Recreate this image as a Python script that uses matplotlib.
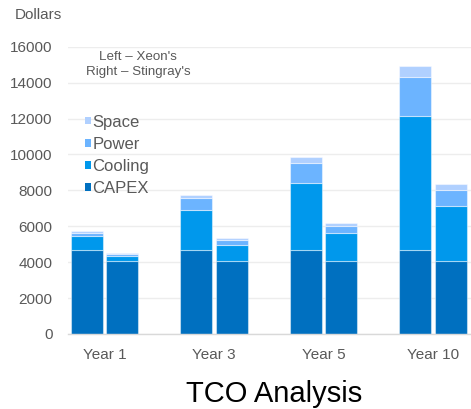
import matplotlib
matplotlib.use("Agg")
import matplotlib.pyplot as plt
from matplotlib.patches import Patch
import numpy as np

plt.rcParams['font.family'] = ['Liberation Sans', 'DejaVu Sans']

years = ["Year 1", "Year 3", "Year 5", "Year 10"]
components = ["CAPEX", "Cooling", "Power", "Space"]

# Cost components per year (dollars)
xeon_capex = [4700, 4700, 4700, 4700]
xeon_cooling = [750, 2200, 3720, 7430]
xeon_power = [190, 650, 1080, 2170]
xeon_space = [95, 185, 335, 630]

stingray_capex = [4080, 4080, 4080, 4080]
stingray_cooling = [260, 890, 1520, 3060]
stingray_power = [110, 260, 410, 890]
stingray_space = [55, 110, 185, 315]

colors = {"CAPEX": "#0070C0", "Cooling": "#0098EC",
          "Power": "#6CB4FF", "Space": "#B0D0FF"}

fig = plt.figure(figsize=(4.71, 4.09), dpi=100)
ax = fig.add_axes([0.1444, 0.1834, 0.8556, 0.7024])

x = np.arange(len(years))
width = 0.292
offset = 0.164

def stack(xpos, parts):
    bottom = np.zeros(len(years))
    for name, vals in zip(components, parts):
        vals = np.asarray(vals, dtype=float)
        ax.bar(xpos, vals, width, bottom=bottom, color=colors[name],
               edgecolor=(1, 1, 1, 0.45), linewidth=0.8, zorder=3)
        bottom += vals

stack(x - offset, [xeon_capex, xeon_cooling, xeon_power, xeon_space])
stack(x + offset, [stingray_capex, stingray_cooling, stingray_power, stingray_space])

ax.set_xlim(-0.333, 3.347)
ax.set_ylim(0, 16000)
ax.set_yticks(np.arange(0, 16001, 2000))
ax.set_xticks(x)
ax.set_xticklabels(years)
ax.tick_params(axis='both', length=0, labelsize=11, labelcolor="#595959")
ax.tick_params(axis='x', pad=10)
ax.tick_params(axis='y', pad=11)
ax.grid(axis='y', color="#EDEDED", linewidth=1.0, zorder=0)
ax.set_axisbelow(True)
for side in ["top", "right", "left"]:
    ax.spines[side].set_visible(False)
ax.spines["bottom"].set_color("#D9D9D9")
ax.spines["bottom"].set_linewidth(1.0)
ax.spines["bottom"].set_zorder(4)

fig.text(15 / 471, 1 - 15 / 409, "Dollars", fontsize=11, color="#595959",
         ha="left", va="center")

fig.text(138 / 471, 1 - 56.5 / 409, "Left – Xeon's", fontsize=9.6,
         color="#595959", ha="center", va="center")
fig.text(138 / 471, 1 - 72.5 / 409, "Right – Stingray's", fontsize=9.6,
         color="#595959", ha="center", va="center")

handles = [Patch(facecolor=colors[n], edgecolor="none") for n in reversed(components)]
leg = fig.legend(handles, list(reversed(components)), loc="upper left",
                 bbox_to_anchor=(85 / 471, 1 - 114.5 / 409), frameon=False,
                 fontsize=12, handlelength=0.33, handleheight=0.33,
                 handletextpad=0.12, labelspacing=0.43, borderpad=0,
                 borderaxespad=0)
for t in leg.get_texts():
    t.set_color("#595959")

fig.text(274 / 471, 1 - 401.7 / 409, "TCO Analysis", fontsize=21,
         color="#000000", ha="center", va="baseline")

fig.savefig("out.png", dpi=100)
